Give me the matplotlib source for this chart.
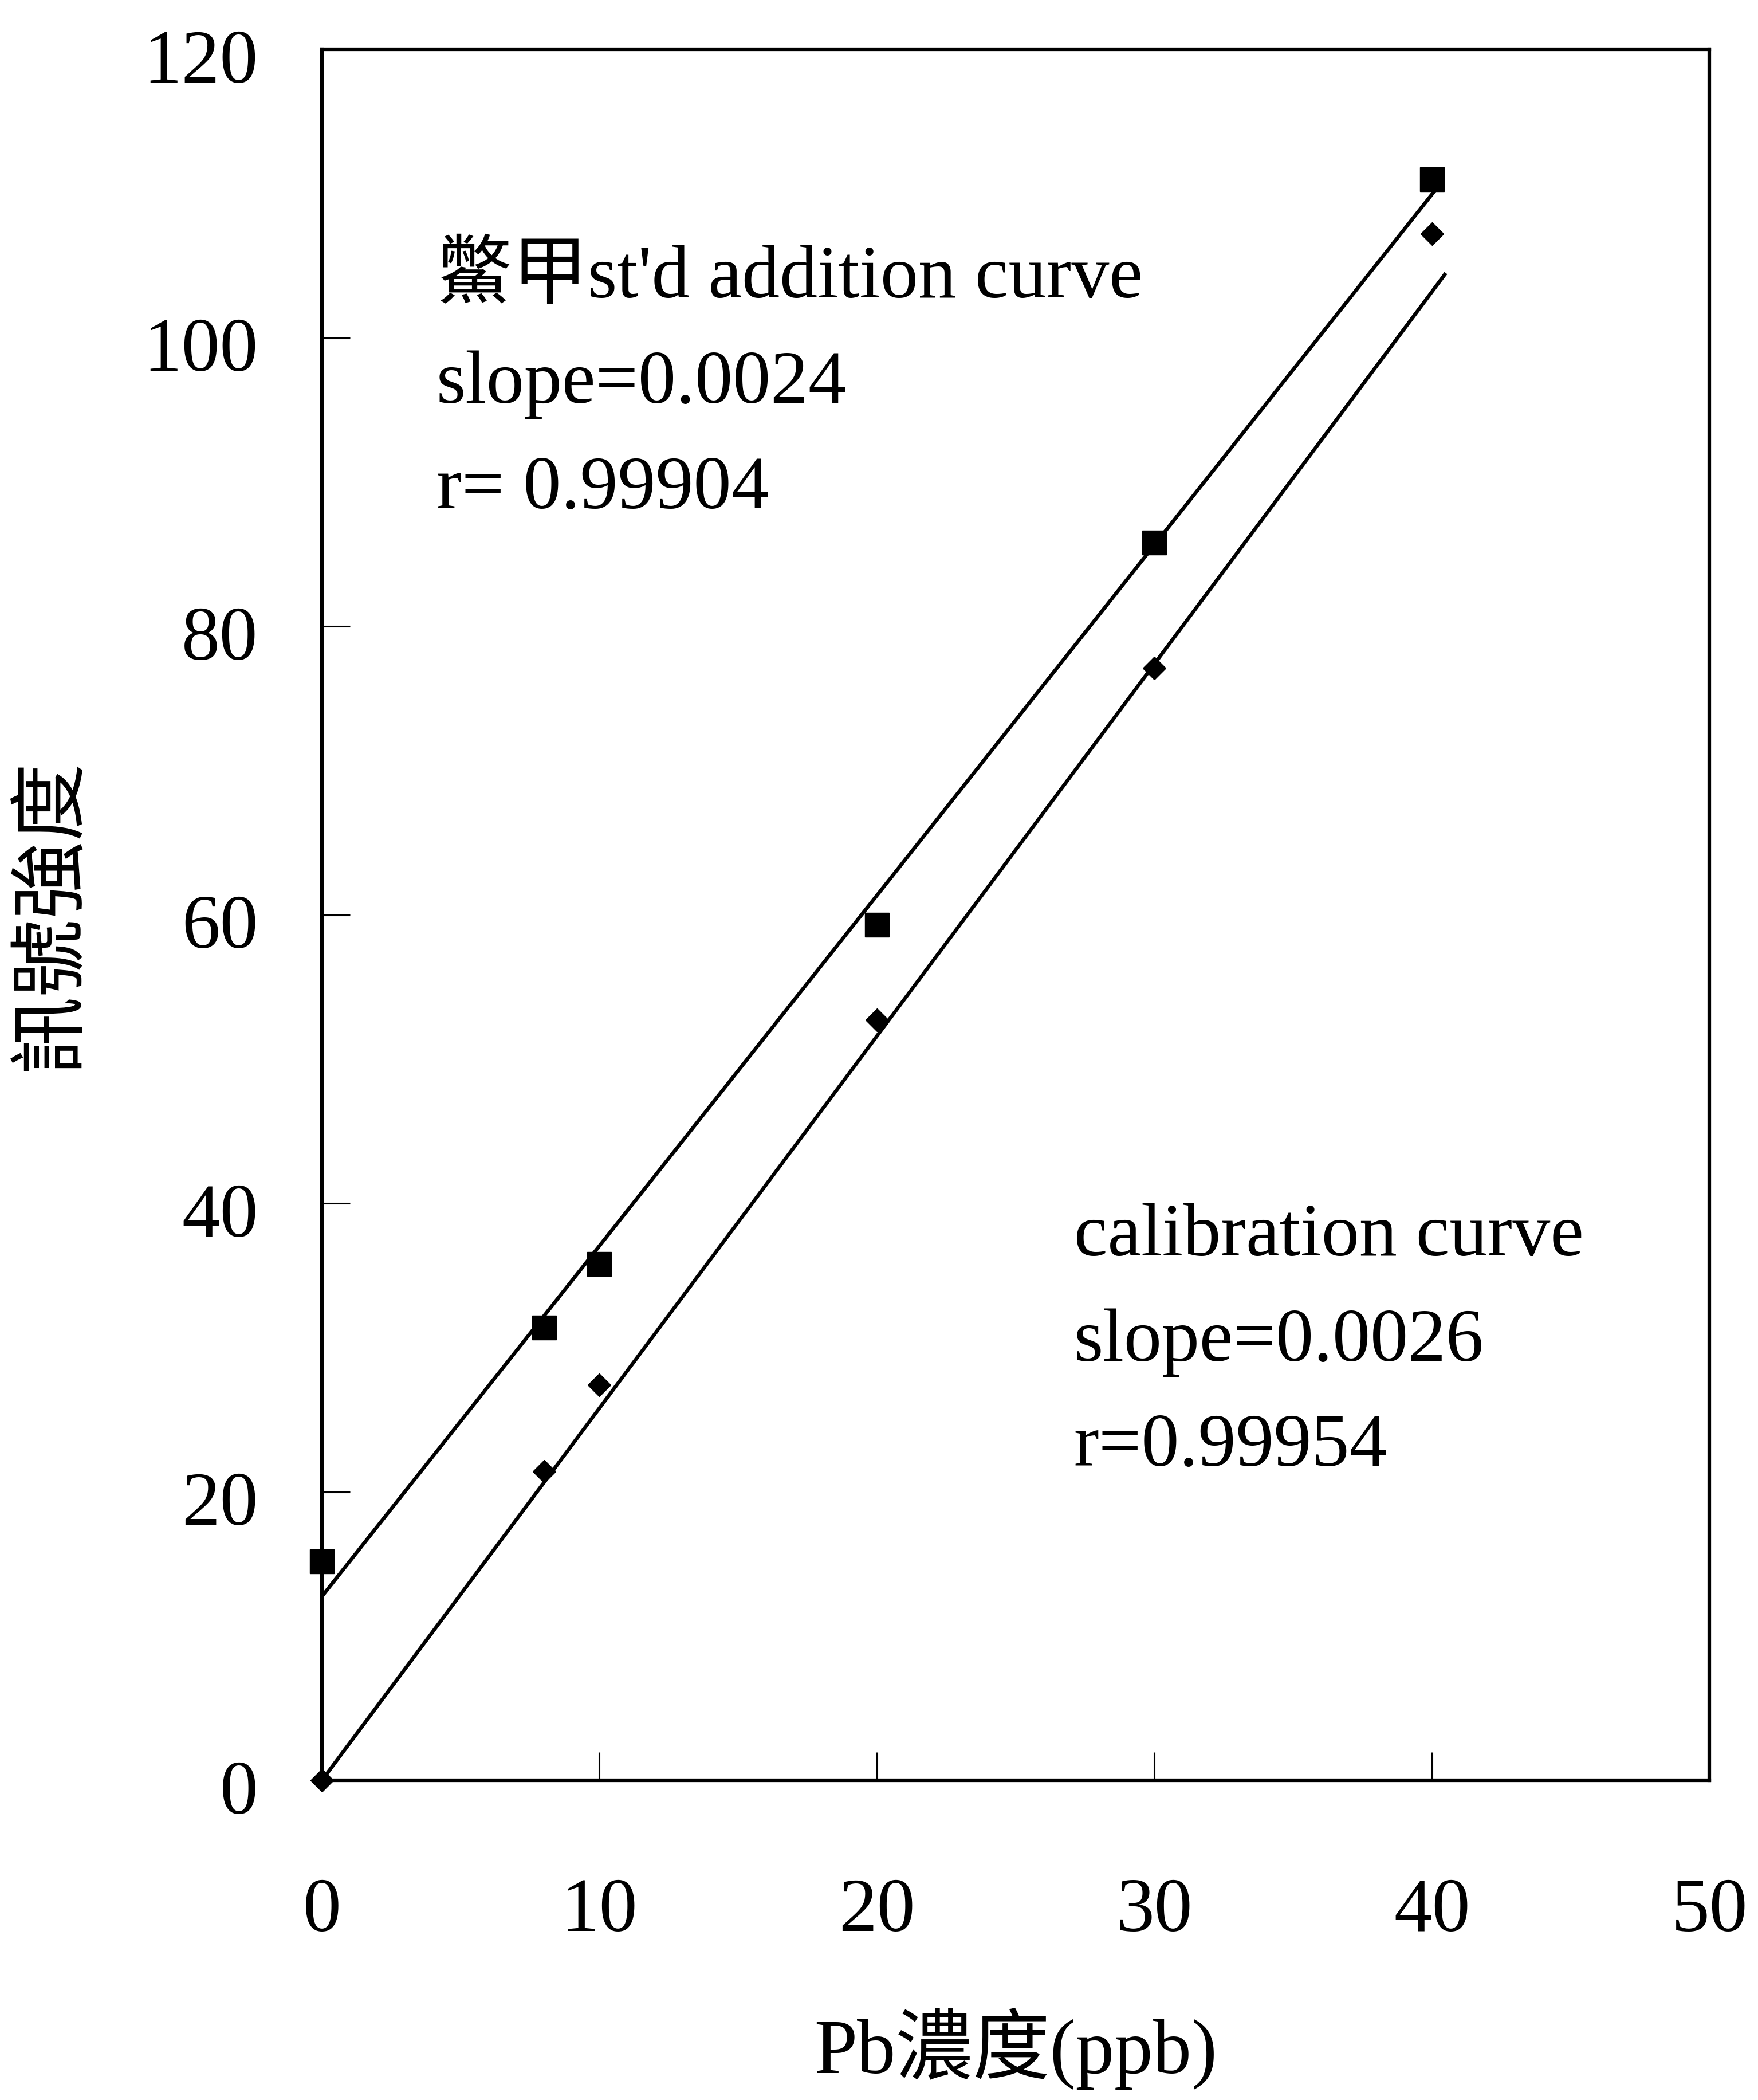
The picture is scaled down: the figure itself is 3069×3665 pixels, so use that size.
import matplotlib
matplotlib.use("Agg")
import matplotlib.pyplot as plt
import matplotlib.transforms as mtransforms
import numpy as np

# Pb concentration (ppb) vs. signal intensity
conc = [0, 8, 10, 20, 30, 40]
std_addition = [15.2, 31.4, 35.8, 59.3, 85.8, 111.0]
calibration = [0.0, 21.4, 27.4, 52.7, 77.1, 107.2]

# straight-line fits: standard addition, calibration
fit_slope = [2.43, 2.58]
fit_intercept = [12.75, 0.0]
fit_x_end = [40.2, 40.5]

std_note = ["鱉甲st'd addition curve", "slope=0.0024", "r= 0.99904"]
cal_note = ["calibration curve", "slope=0.0026", "r=0.99954"]

x_ticks = [0, 10, 20, 30, 40, 50]
y_ticks = [0, 20, 40, 60, 80, 100, 120]

plt.rcParams['font.family'] = ['Liberation Serif', 'Noto Sans CJK TC']
plt.rcParams['axes.unicode_minus'] = False

fig = plt.figure(figsize=(30.69, 36.65), dpi=100)
ax = fig.add_axes([0.1831, 0.1522, 0.7893, 0.8243])

for slope, icpt, x_end in zip(fit_slope, fit_intercept, fit_x_end):
    xs = np.array([0.0, x_end])
    ax.plot(xs, slope * xs + icpt, color='black', lw=4.6, solid_capstyle='butt')

ax.plot(conc, std_addition, linestyle='none', marker='s', ms=30,
        color='black', clip_on=False, zorder=3)
ax.plot(conc, calibration, linestyle='none', marker='D', ms=20,
        color='black', clip_on=False, zorder=3)

ax.set_xlim(0, 50)
ax.set_ylim(0, 120)
ax.set_xticks(x_ticks)
ax.set_yticks(y_ticks)
ax.tick_params(direction='in', length=35, width=2.2, labelsize=96,
               top=False, right=False)
ax.tick_params(axis='x', pad=122)
ax.tick_params(axis='y', pad=80)
for sp in ax.spines.values():
    sp.set_linewidth(4.5)

# y tick labels sit a little below their ticks
shift = mtransforms.ScaledTranslation(0, -8 / 72, fig.dpi_scale_trans)
for lbl in ax.get_yticklabels():
    lbl.set_transform(lbl.get_transform() + shift)

# notes beside each line
line_gap = 7.3
for i, s in enumerate(std_note):
    ax.text(4.13, 102.8 - i * line_gap, s, fontsize=95, va='baseline', ha='left')
for i, s in enumerate(cal_note):
    ax.text(27.1, 36.4 - i * line_gap, s, fontsize=95, va='baseline', ha='left')

ax.set_xlabel('Pb濃度(ppb)', fontsize=97, va='center')
ax.xaxis.set_label_coords(0.5, -0.155)
ax.set_ylabel('訊號強度', fontsize=98, va='center')
ax.yaxis.set_label_coords(-0.1937, 0.5)

fig.savefig('out.png', dpi=100, facecolor='white')
